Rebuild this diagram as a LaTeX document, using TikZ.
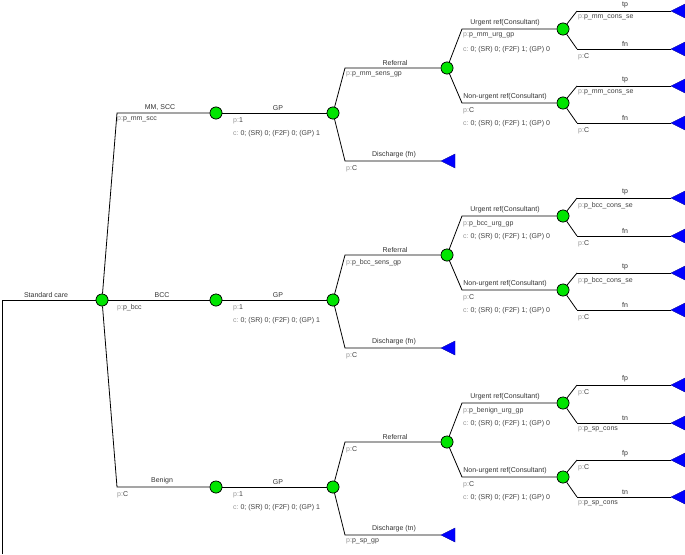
\documentclass[tikz,border=0pt]{standalone}
\usepackage{fontspec}
\setmainfont{Liberation Sans}
\begin{document}
\newcommand\pl[1]{\textcolor{black!40}{p:}\textcolor{black!75}{#1}}
\newcommand\cl{\textcolor{black!40}{c:}\ \textcolor{black!75}{0; (SR) 0; (F2F) 1; (GP) 0}}
\newcommand\clg{\textcolor{black!40}{c:}\ \textcolor{black!75}{0; (SR) 0; (F2F) 0; (GP) 1}}
\begin{tikzpicture}[x=1pt,y=-1pt,
  every node/.style={font=\fontsize{7}{8}\selectfont},
  br/.style={line width=0.8pt,black},
  ch/.style={circle,draw=black,fill=green!90!black,line width=0.6pt,minimum size=12pt,inner sep=0pt},
  lab/.style={above,inner sep=2.5pt,text=black!80},
  pv/.style={anchor=north west,inner sep=1pt},
  term/.style={fill=blue,draw=blue!60!black,line width=0.4pt}]
\useasboundingbox (0,0) rectangle (685,554);
\newcommand\leaf[3]{% name, y, label
  \coordinate (#1s) at (577,#2);
  \coordinate (#1t) at (671,#2);
  \draw[br] (#1s) -- (#1t);
  \filldraw[term] (#1t) -- (685,#2-7) -- (685,#2+7) -- cycle;
  \node[lab] at (625,#2) {#3};}
\newcommand\subtree[9]{% id, Y, refp, dislabel, disp, urgp, leafA, leafAp, leafBp
  \node[ch] (#1g) at (333,#2) {};
  \node[ch] (#1r) at (447,#2-45) {};
  \coordinate (#1rs) at (345,#2-45);
  \coordinate (#1ds) at (345,#2+48);
  \coordinate (#1dt) at (441,#2+48);
  \draw[br] (#1g) -- (#1rs) -- (#1r);
  \draw[br] (#1g) -- (#1ds) -- (#1dt);
  \filldraw[term] (#1dt) -- (455,#2+41) -- (455,#2+55) -- cycle;
  \node[lab] at (395,#2-45) {Referral};
  \node[pv] at (345,#2-42) {\pl{#3}};
  \node[lab] at (394,#2+48) {#4};
  \node[pv] at (345,#2+51) {\pl{#5}};
  \node[ch] (#1u) at (563,#2-84) {};
  \node[ch] (#1n) at (563,#2-10) {};
  \coordinate (#1us) at (462,#2-84);
  \coordinate (#1ns) at (462,#2-10);
  \draw[br] (#1r) -- (#1us) -- (#1u);
  \draw[br] (#1r) -- (#1ns) -- (#1n);
  \node[lab] at (505,#2-84) {Urgent ref(Consultant)};
  \node[pv] at (462,#2-81) {\pl{#6}};
  \node[pv] at (462,#2-68) {\cl};
  \node[lab] at (505,#2-10) {Non-urgent ref(Consultant)};
  \node[pv] at (462,#2-7) {\pl{C}};
  \node[pv] at (462,#2+6) {\cl};
  \leaf{#1a}{#2-102}{#7}
  \node[pv] at (577,#2-99) {\pl{#8}};
  \leaf{#1b}{#2-64}{\leafB}
  \node[pv] at (577,#2-61) {\pl{#9}};
  \leaf{#1c}{#2-27}{#7}
  \node[pv] at (577,#2-24) {\pl{#8}};
  \leaf{#1d}{#2+10}{\leafB}
  \node[pv] at (577,#2+13) {\pl{#9}};
  \draw[br] (#1u) -- (#1as) (#1u) -- (#1bs);
  \draw[br] (#1n) -- (#1cs) (#1n) -- (#1ds);}
% root
\coordinate (start) at (2,554);
\coordinate (rc) at (2,300);
\node[ch] (A) at (102,300) {};
\draw[br] (start) -- (rc) -- (A);
\node[lab] at (46,300) {Standard care};
\node[ch] (m1) at (216,113) {};
\node[ch] (m2) at (216,300) {};
\node[ch] (m3) at (216,487) {};
\coordinate (e1) at (117,113);
\coordinate (e3) at (117,487);
\draw[br] (A) -- (e1) -- (m1);
\draw[br] (A) -- (m2);
\draw[br] (A) -- (e3) -- (m3);
\node[lab] at (160,113) {MM, SCC};
\node[pv] at (116,116) {\pl{p\_mm\_scc}};
\node[lab] at (162,300) {BCC};
\node[pv] at (116,303) {\pl{p\_bcc}};
\node[lab] at (162,487) {Benign};
\node[pv] at (116,490) {\pl{C}};
\def\leafB{fn}
\subtree{s1}{113}{p\_mm\_sens\_gp}{Discharge (fn)}{C}{p\_mm\_urg\_gp}{tp}{p\_mm\_cons\_se}{C}
\subtree{s2}{300}{p\_bcc\_sens\_gp}{Discharge (fn)}{C}{p\_bcc\_urg\_gp}{tp}{p\_bcc\_cons\_se}{C}
\def\leafB{tn}
\subtree{s3}{487}{C}{Discharge (tn)}{p\_sp\_gp}{p\_benign\_urg\_gp}{fp}{C}{p\_sp\_cons}
\foreach \i in {1,2,3}{
  \draw[br] (m\i) -- (s\i g);
}
\foreach \y in {113,300,487}{
  \node[lab] at (278,\y) {GP};
  \node[pv] at (232,\y+3) {\pl{1}};
  \node[pv] at (232,\y+16) {\clg};
}
\foreach \n in {A,m1,m2,m3,s1g,s2g,s3g,s1r,s2r,s3r,s1u,s2u,s3u,s1n,s2n,s3n}{
  \node[ch] at (\n) {};
}
\end{tikzpicture}
\end{document}
